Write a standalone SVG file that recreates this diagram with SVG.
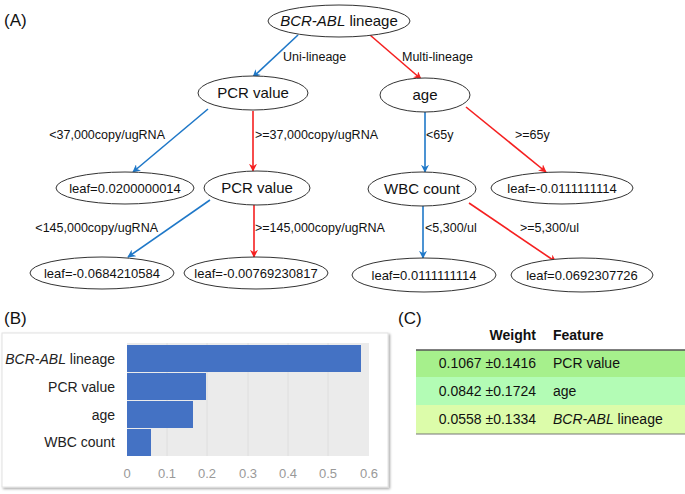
<svg xmlns="http://www.w3.org/2000/svg" width="685" height="494" viewBox="0 0 685 494">
<style>
.node ellipse{fill:#fff;stroke:#333;stroke-width:1}
.nt{font-family:"Liberation Sans",Arial,sans-serif;font-size:15px;fill:#111;text-anchor:middle}
.lt{font-family:"Liberation Sans",Arial,sans-serif;font-size:13px;fill:#111;text-anchor:middle}
.el{font-family:"Liberation Sans",Arial,sans-serif;font-size:12.5px;fill:#111}
.blue{stroke:#1f78c8;stroke-width:1.6;fill:none;marker-end:url(#ab)}
.red{stroke:#f52020;stroke-width:1.6;fill:none;marker-end:url(#ar)}
.pl{font-family:"Liberation Sans",Arial,sans-serif;font-size:17px;fill:#111}
.yl{font-family:"Liberation Sans",Arial,sans-serif;font-size:14px;fill:#222;text-anchor:end}
.tk{font-family:"Liberation Sans",Arial,sans-serif;font-size:13px;fill:#999;text-anchor:middle}
.bar{fill:#4472c4}
.grid{stroke:#dedede;stroke-width:1}
.tb{font-family:"Liberation Sans",Arial,sans-serif;font-size:14px;fill:#111}
.th{font-family:"Liberation Sans",Arial,sans-serif;font-size:14px;font-weight:bold;fill:#111}
</style>
<defs>
<marker id="ab" viewBox="0 0 10 10" refX="9" refY="5" markerWidth="5" markerHeight="5" orient="auto" markerUnits="strokeWidth"><path d="M0,0 L10,5 L0,10 L3,5 z" fill="#1f78c8"/></marker>
<marker id="ar" viewBox="0 0 10 10" refX="9" refY="5" markerWidth="5" markerHeight="5" orient="auto" markerUnits="strokeWidth"><path d="M0,0 L10,5 L0,10 L3,5 z" fill="#f52020"/></marker>
<filter id="sh" x="-5%" y="-5%" width="110%" height="115%"><feDropShadow dx="1.5" dy="1.5" stdDeviation="1.2" flood-color="#000" flood-opacity="0.35"/></filter>
</defs>
<rect width="685" height="494" fill="#fff"/>

<!-- Panel A -->
<text class="pl" x="4" y="26">(A)</text>
<g id="connectors">
<line class="blue" x1="298" y1="35" x2="253" y2="77"/>
<line class="red" x1="370" y1="35" x2="421" y2="79"/>
<line class="blue" x1="208" y1="109" x2="133" y2="172"/>
<line class="red" x1="253" y1="111" x2="253" y2="171"/>
<line class="blue" x1="425" y1="112" x2="425" y2="172"/>
<line class="red" x1="466" y1="107" x2="546" y2="172"/>
<line class="blue" x1="210" y1="200" x2="128" y2="257"/>
<line class="red" x1="254" y1="205" x2="254" y2="257"/>
<line class="blue" x1="423" y1="206" x2="423" y2="258"/>
<line class="red" x1="469" y1="203" x2="556" y2="262"/>
<text class="el" x="283" y="61">Uni-lineage</text>
<text class="el" x="402" y="61">Multi-lineage</text>
<text class="el" x="165" y="139" text-anchor="end">&lt;37,000copy/ugRNA</text>
<text class="el" x="255" y="139">&gt;=37,000copy/ugRNA</text>
<text class="el" x="426" y="139">&lt;65y</text>
<text class="el" x="515" y="139">&gt;=65y</text>
<text class="el" x="158" y="232" text-anchor="end">&lt;145,000copy/ugRNA</text>
<text class="el" x="255" y="232">&gt;=145,000copy/ugRNA</text>
<text class="el" x="425" y="232">&lt;5,300/ul</text>
<text class="el" x="520" y="232">&gt;=5,300/ul</text>
</g>
<g id="n-root" class="node"><ellipse cx="339" cy="21" rx="71" ry="16"/><text class="nt" x="339" y="26"><tspan font-style="italic">BCR-ABL</tspan> lineage</text></g>
<g id="n-pcr1" class="node"><ellipse cx="253" cy="93" rx="55" ry="17"/><text class="nt" x="253" y="98">PCR value</text></g>
<g id="n-age" class="node"><ellipse cx="425" cy="95" rx="45" ry="17"/><text class="nt" x="425" y="100">age</text></g>
<g id="n-leaf1" class="node"><ellipse cx="125" cy="188" rx="69" ry="16"/><text class="lt" x="125" y="193">leaf=0.0200000014</text></g>
<g id="n-pcr2" class="node"><ellipse cx="257" cy="188" rx="53" ry="17"/><text class="nt" x="257" y="193">PCR value</text></g>
<g id="n-wbc" class="node"><ellipse cx="422" cy="189" rx="54" ry="17"/><text class="nt" x="422" y="194">WBC count</text></g>
<g id="n-leaf2" class="node"><ellipse cx="562" cy="188" rx="71" ry="16"/><text class="lt" x="562" y="193">leaf=-0.0111111114</text></g>
<g id="n-leaf3" class="node"><ellipse cx="102" cy="273" rx="72" ry="16"/><text class="lt" x="102" y="278">leaf=-0.0684210584</text></g>
<g id="n-leaf4" class="node"><ellipse cx="256" cy="273" rx="72" ry="16"/><text class="lt" x="256" y="278">leaf=-0.00769230817</text></g>
<g id="n-leaf5" class="node"><ellipse cx="424" cy="275" rx="72" ry="17"/><text class="lt" x="424" y="280">leaf=0.0111111114</text></g>
<g id="n-leaf6" class="node"><ellipse cx="582" cy="275" rx="71" ry="17"/><text class="lt" x="582" y="280">leaf=0.0692307726</text></g>

<!-- Panel B -->
<text class="pl" x="4" y="324">(B)</text>
<g id="chart">
<rect x="2" y="333" width="386" height="154" fill="#fff" stroke="#e2e2e2" stroke-width="1" filter="url(#sh)"/>
<rect x="127" y="343" width="242" height="113" fill="#ebebeb"/>
<line class="grid" x1="167" y1="343" x2="167" y2="456"/>
<line class="grid" x1="207" y1="343" x2="207" y2="456"/>
<line class="grid" x1="248" y1="343" x2="248" y2="456"/>
<line class="grid" x1="288" y1="343" x2="288" y2="456"/>
<line class="grid" x1="328" y1="343" x2="328" y2="456"/>
<rect class="bar" x="127" y="345" width="234" height="27"/>
<rect class="bar" x="127" y="373" width="79" height="27"/>
<rect class="bar" x="127" y="401" width="66" height="27"/>
<rect class="bar" x="127" y="429" width="24" height="27"/>
<text class="yl" x="115" y="364"><tspan font-style="italic">BCR-ABL</tspan> lineage</text>
<text class="yl" x="115" y="392">PCR value</text>
<text class="yl" x="115" y="420">age</text>
<text class="yl" x="115" y="447">WBC count</text>
<text class="tk" x="127" y="478">0</text>
<text class="tk" x="167" y="478">0.1</text>
<text class="tk" x="207" y="478">0.2</text>
<text class="tk" x="248" y="478">0.3</text>
<text class="tk" x="288" y="478">0.4</text>
<text class="tk" x="328" y="478">0.5</text>
<text class="tk" x="369" y="478">0.6</text>
</g>

<!-- Panel C -->
<text class="pl" x="398" y="324">(C)</text>
<g id="table">
<text class="th" x="536" y="340" text-anchor="end">Weight</text>
<text class="th" x="553" y="340">Feature</text>
<rect x="416" y="350" width="269" height="27" fill="#a6f08c"/>
<rect x="416" y="377" width="269" height="28" fill="#b3fcb5"/>
<rect x="416" y="405" width="269" height="29" fill="#dcfcaa"/>
<line x1="416" y1="350" x2="685" y2="350" stroke="#555" stroke-width="1.5"/>
<line x1="416" y1="434" x2="685" y2="434" stroke="#777" stroke-width="1"/>
<text class="tb" x="536" y="368" text-anchor="end">0.1067 ±0.1416</text>
<text class="tb" x="553" y="368">PCR value</text>
<text class="tb" x="536" y="396" text-anchor="end">0.0842 ±0.1724</text>
<text class="tb" x="553" y="396">age</text>
<text class="tb" x="536" y="424" text-anchor="end">0.0558 ±0.1334</text>
<text class="tb" x="553" y="424"><tspan font-style="italic">BCR-ABL</tspan> lineage</text>
</g>
</svg>
